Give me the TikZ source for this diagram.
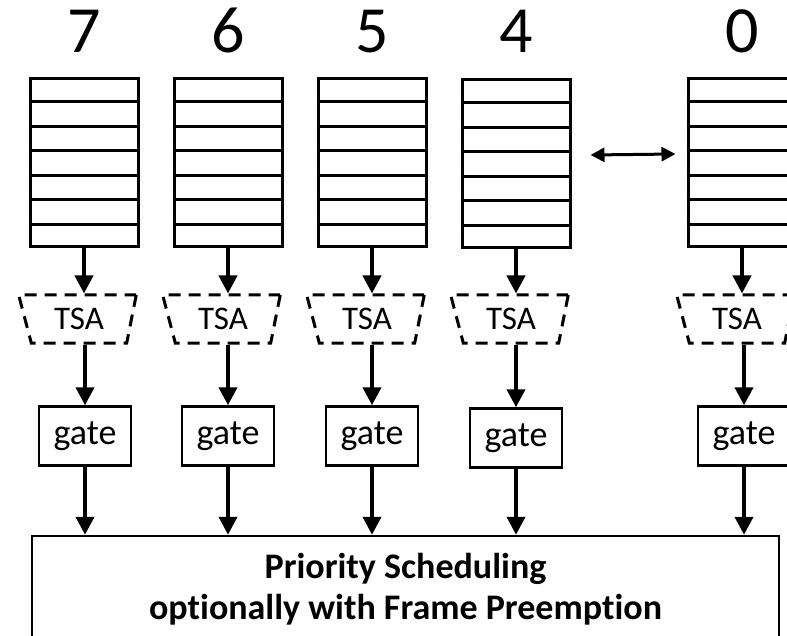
\documentclass[tikz,border=0pt]{standalone}
\usepackage{fontspec}
\setmainfont{Carlito}[Ligatures=NoCommon]
\usetikzlibrary{calc,arrows.meta,shapes.geometric,positioning}

\tikzset{
  queue/.style={draw,line width=3pt,minimum width=108pt,minimum height=168pt,inner sep=0pt},
  row/.style={line width=3pt},
  tsa/.style={draw,line width=3pt,dash pattern=on 12pt off 8pt,shape=trapezium,
    shape border rotate=180,trapezium left angle=77,trapezium right angle=73,
    trapezium stretches=true,minimum width=118pt,minimum height=48pt,inner sep=0pt,
    font=\fontsize{33}{33}\selectfont},
  gate/.style={draw,line width=2.5pt,minimum width=92pt,minimum height=59pt,inner sep=0pt,
    font=\fontsize{36}{36}\selectfont},
  prio/.style={anchor=base,inner sep=0pt,font=\fontsize{66}{66}\selectfont},
  flow/.style={line width=4pt,-{Triangle[width=18pt,length=18pt]}}
}

\begin{document}
\begin{tikzpicture}[x=1pt,y=-1pt]
  \useasboundingbox (0,0) rectangle (787,636);
  \clip (0,0) rectangle (787,636);

  % traffic class numbers
  \node (n7) [prio] at (84,53) {7};
  \node (n6) [prio] at (228,53) {6};
  \node (n5) [prio] at (372,53) {5};
  \node (n4) [prio] at (516,53) {4};
  \node (n0) [prio] at (742,53) {0};

  % queues
  \node (q7) [queue] at (84,163) {};
  \node (q6) [queue] at (228,163) {};
  \node (q5) [queue] at (372,163) {};
  \node (q4) [queue] at (516,164) {};
  \node (q0) [queue] at (742,163) {};
  \foreach \q in {q7,q6,q5,q4,q0}
    \foreach \k in {1,...,6}
      \draw[row] ($(\q.north west)!\k/7!(\q.south west)$) -- ($(\q.north east)!\k/7!(\q.south east)$);
  \draw[line width=3pt,{Triangle[width=14pt,length=14pt]}-{Triangle[width=14pt,length=14pt]}]
    ($(q4.east)+(19,-9)$) -- ($(q0.west)+(-11,-9)$);

  % transmission selection algorithms
  \node (t7) [tsa] at (79,319) {TSA};
  \node (t6) [tsa] at (223,319) {TSA};
  \node (t5) [tsa] at (367,319) {TSA};
  \node (t4) [tsa] at (511,319) {TSA};
  \node (t0) [tsa] at (737,319) {TSA};

  % gates
  \node (g7) [gate] at (85,436) {gate};
  \node (g6) [gate] at (228,436) {gate};
  \node (g5) [gate] at (372,436) {gate};
  \node (g4) [gate] at (516,438) {gate};
  \node (g0) [gate] at (744,436) {gate};

  \node (sched) [draw,line width=2.5pt,minimum width=747pt,minimum height=106pt,align=center,
    font=\fontsize{36}{41}\selectfont\bfseries] at (405.5,589)
    {Priority Scheduling\\optionally with Frame Preemption};

  \draw[flow] (q7.south) -- (q7.south |- t7.north);
  \draw[flow] (q6.south) -- (q6.south |- t6.north);
  \draw[flow] (q5.south) -- (q5.south |- t5.north);
  \draw[flow] (q4.south) -- (q4.south |- t4.north);
  \draw[flow] (q0.south) -- (q0.south |- t0.north);

  \draw[flow] (g7.north |- t7.south) -- (g7.north);
  \draw[flow] (g6.north |- t6.south) -- (g6.north);
  \draw[flow] (g5.north |- t5.south) -- (g5.north);
  \draw[flow] (g4.north |- t4.south) -- (g4.north);
  \draw[flow] (g0.north |- t0.south) -- (g0.north);

  \draw[flow] (g7.south) -- (g7.south |- sched.north);
  \draw[flow] (g6.south) -- (g6.south |- sched.north);
  \draw[flow] (g5.south) -- (g5.south |- sched.north);
  \draw[flow] (g4.south) -- (g4.south |- sched.north);
  \draw[flow] (g0.south) -- (g0.south |- sched.north);
\end{tikzpicture}
\end{document}
